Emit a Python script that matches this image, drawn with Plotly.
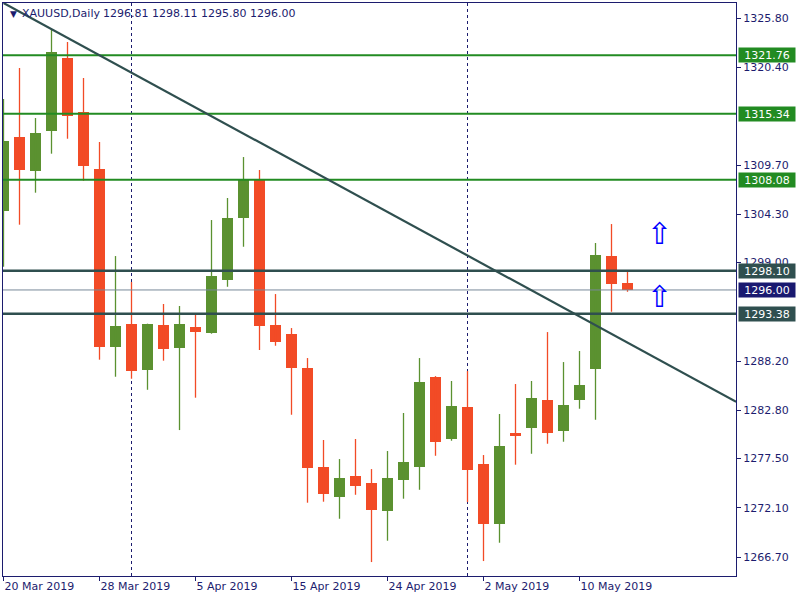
import plotly.graph_objects as go

# ---------------- data ----------------
dates = ["2019-03-20", "2019-03-21", "2019-03-22", "2019-03-25", "2019-03-26", "2019-03-27",
         "2019-03-28", "2019-03-29", "2019-04-01", "2019-04-02", "2019-04-03", "2019-04-04",
         "2019-04-05", "2019-04-08", "2019-04-09", "2019-04-10", "2019-04-11", "2019-04-12",
         "2019-04-15", "2019-04-16", "2019-04-17", "2019-04-18", "2019-04-22", "2019-04-23",
         "2019-04-24", "2019-04-25", "2019-04-26", "2019-04-29", "2019-04-30", "2019-05-01",
         "2019-05-02", "2019-05-03", "2019-05-06", "2019-05-07", "2019-05-08", "2019-05-09",
         "2019-05-10", "2019-05-13", "2019-05-14", "2019-05-15"]

opens = [1304.69, 1312.78, 1309.08, 1313.47, 1321.44, 1315.52, 1309.27, 1289.77, 1292.26, 1287.25,
         1292.15, 1289.66, 1291.93, 1291.31, 1297.12, 1303.89, 1308.17, 1292.15, 1291.16, 1287.43,
         1276.57, 1273.31, 1275.59, 1274.82, 1271.78, 1275.18, 1276.61, 1286.45, 1279.68, 1283.16,
         1276.90, 1270.35, 1280.30, 1280.89, 1283.92, 1280.56, 1283.96, 1287.36, 1299.72, 1296.81]
highs = [1316.95, 1320.35, 1314.86, 1324.59, 1323.20, 1319.25, 1312.23, 1299.72, 1296.87, 1292.30,
         1294.46, 1294.24, 1293.47, 1303.67, 1306.09, 1310.58, 1309.16, 1295.55, 1291.82, 1288.53,
         1279.54, 1277.45, 1279.65, 1276.35, 1278.33, 1282.50, 1288.53, 1286.55, 1286.01, 1287.11,
         1277.89, 1282.39, 1285.68, 1286.01, 1291.38, 1288.09, 1289.30, 1301.15, 1303.23, 1298.11]
lows = [1298.55, 1303.16, 1306.67, 1310.95, 1312.59, 1307.98, 1288.35, 1286.48, 1286.26, 1285.05,
        1288.24, 1280.63, 1284.18, 1291.20, 1296.35, 1300.74, 1289.41, 1289.88, 1282.31, 1272.66,
        1272.77, 1270.90, 1273.53, 1266.15, 1268.49, 1273.10, 1274.08, 1277.81, 1279.46, 1272.73,
        1266.26, 1268.27, 1276.83, 1278.03, 1279.13, 1279.35, 1282.97, 1281.76, 1293.61, 1295.80]
closes = [1312.34, 1309.19, 1313.22, 1322.10, 1315.11, 1309.63, 1289.77, 1292.04, 1287.14, 1292.26,
          1289.55, 1292.26, 1291.42, 1297.53, 1303.89, 1308.03, 1292.08, 1290.32, 1287.47, 1276.50,
          1273.64, 1275.37, 1274.52, 1271.89, 1275.37, 1277.12, 1285.90, 1279.35, 1283.27, 1276.28,
          1270.35, 1278.88, 1280.01, 1284.14, 1280.34, 1283.38, 1285.57, 1299.83, 1296.68, 1296.00]

symbol_title = "XAUUSD,Daily"
x_tick_idx = [0, 6, 12, 18, 24, 30, 36]
y_tick_vals = [1325.80, 1320.40, 1309.70, 1304.30, 1299.00,
               1288.20, 1282.80, 1277.50, 1272.10, 1266.70]

green_levels = [1321.76, 1315.34, 1308.08]
dark_levels = [1298.10, 1293.38]
bid_level = 1296.00

trend_idx = [0, 45.79]
trend_price = [1327.48, 1283.74]

arrow_idx = [41, 41]
arrow_price = [1302.21, 1295.26]

# ---------------- styles ----------------
BULL = "#5B9130"
BEAR = "#F24B26"
NAVY = "#1C1C6E"
FONT = "DejaVu Sans"
months = ["Jan", "Feb", "Mar", "Apr", "May", "Jun", "Jul", "Aug", "Sep", "Oct", "Nov", "Dec"]


def fmt_date(d):
    y, m, dd = d.split("-")
    return f"{int(dd)} {months[int(m) - 1]} {y}"


n = len(dates)
idx = list(range(n))
up = [c >= o for o, c in zip(opens, closes)]

fig = go.Figure()

# wicks
for flag, col in ((True, BULL), (False, BEAR)):
    wx, wy = [], []
    for i in idx:
        if up[i] == flag:
            wx += [i, i, None]
            wy += [lows[i], highs[i], None]
    fig.add_trace(go.Scatter(x=wx, y=wy, mode="lines", line=dict(color=col, width=1.3),
                             hoverinfo="skip", showlegend=False))

# bodies
fig.add_trace(go.Bar(
    x=idx,
    base=[min(o, c) for o, c in zip(opens, closes)],
    y=[max(abs(c - o), 0.12) for o, c in zip(opens, closes)],
    width=0.6875,
    marker=dict(color=[BULL if u else BEAR for u in up], line=dict(width=0)),
    hoverinfo="skip", showlegend=False))

shapes = []
# period separators (first day of each month)
for i in range(1, n):
    if dates[i][5:7] != dates[i - 1][5:7]:
        shapes.append(dict(type="line", xref="x", yref="paper", x0=i, x1=i, y0=0, y1=1,
                           line=dict(color=NAVY, width=1, dash="3px,3px"), layer="below"))
for lv in green_levels:
    shapes.append(dict(type="line", xref="paper", yref="y", x0=0, x1=1, y0=lv, y1=lv,
                       line=dict(color="#228B22", width=2)))
for lv in dark_levels:
    shapes.append(dict(type="line", xref="paper", yref="y", x0=0, x1=1, y0=lv, y1=lv,
                       line=dict(color="#2F4F4F", width=2.5)))
shapes.append(dict(type="line", xref="paper", yref="y", x0=0, x1=1, y0=bid_level, y1=bid_level,
                   line=dict(color="#778899", width=1)))
shapes.append(dict(type="line", xref="x", yref="y", x0=trend_idx[0], x1=trend_idx[1],
                   y0=trend_price[0], y1=trend_price[1], line=dict(color="#2F4F4F", width=2.2)))

annotations = []
def price_box(val, bg):
    annotations.append(dict(xref="paper", yref="y", x=1, y=val, xanchor="left", yanchor="middle",
                            xshift=2, text=f"{val:.2f}", showarrow=False, bgcolor=bg,
                            font=dict(family=FONT, size=11, color="white"),
                            width=54, height=12, borderpad=1, align="center"))

for lv in green_levels:
    price_box(lv, "#228B22")
for lv in dark_levels:
    price_box(lv, "#2F4F4F")
price_box(bid_level, "#191970")

for ax, ap in zip(arrow_idx, arrow_price):
    annotations.append(dict(xref="x", yref="y", x=ax, y=ap, text="⇧", showarrow=False,
                            font=dict(family=FONT, size=30, color="#0000FF"),
                            xanchor="center", yanchor="middle"))

# header
annotations.append(dict(xref="paper", yref="paper", x=0, y=1, xshift=5, yshift=-4,
                        xanchor="left", yanchor="top", text="▼", showarrow=False,
                        font=dict(family=FONT, size=9, color=NAVY)))
annotations.append(dict(xref="paper", yref="paper", x=0, y=1, xshift=17, yshift=-2,
                        xanchor="left", yanchor="top", text=symbol_title, showarrow=False,
                        font=dict(family=FONT, size=11, color=NAVY)))
annotations.append(dict(xref="paper", yref="paper", x=0, y=1, xshift=98, yshift=-2,
                        xanchor="left", yanchor="top",
                        text=f"{opens[-1]:.2f} {highs[-1]:.2f} {lows[-1]:.2f} {closes[-1]:.2f}",
                        showarrow=False, font=dict(family=FONT, size=11, color=NAVY)))

fig.update_layout(
    width=800, height=600,
    margin=dict(l=3, r=64, t=3, b=24),
    plot_bgcolor="white", paper_bgcolor="white",
    showlegend=False, bargap=0,
    shapes=shapes, annotations=annotations,
    hovermode=False,
    xaxis=dict(range=[-0.03125, 45.78125], tickvals=x_tick_idx,
               ticktext=[fmt_date(dates[i]) for i in x_tick_idx],
               ticks="outside", ticklen=4, tickcolor=NAVY, ticklabelposition="outside right",
               showline=True, linecolor=NAVY, linewidth=1, mirror=True,
               showgrid=False, zeroline=False, automargin=False,
               tickfont=dict(family=FONT, size=11, color=NAVY)),
    yaxis=dict(range=[1264.62, 1327.48], side="right", tickvals=y_tick_vals,
               ticktext=[f"{v:.2f}" for v in y_tick_vals],
               ticks="outside", ticklen=4, tickcolor=NAVY,
               showline=True, linecolor=NAVY, linewidth=1, mirror=True,
               showgrid=False, zeroline=False, automargin=False,
               tickfont=dict(family=FONT, size=11, color=NAVY)),
)

fig.write_html("out.html", config={"displayModeBar": False},
               post_script="document.body.style.margin='0';document.body.style.overflow='hidden';")
